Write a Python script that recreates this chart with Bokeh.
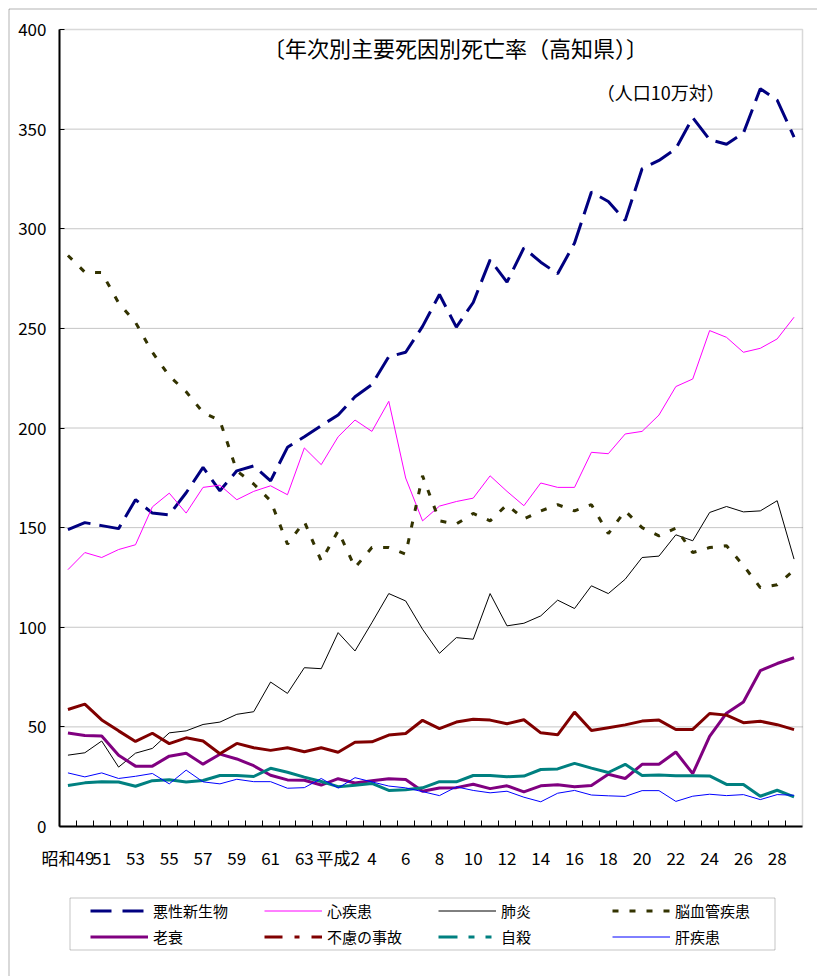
from bokeh.plotting import figure
from bokeh.models import (Range1d, FixedTicker, Label, Legend, LegendItem,
                          LinearAxis, BoxAnnotation)
from bokeh.embed import file_html
from bokeh.resources import INLINE

FONT = "Noto Sans CJK JP"

# ---- data -------------------------------------------------------------
years = ["昭和49", "50", "51", "52", "53", "54", "55", "56", "57", "58", "59",
         "60", "61", "62", "63", "平成元", "2", "3", "4", "5", "6", "7", "8",
         "9", "10", "11", "12", "13", "14", "15", "16", "17", "18", "19", "20",
         "21", "22", "23", "24", "25", "26", "27", "28", "29"]
tick_labels = ["昭和49", "51", "53", "55", "57", "59", "61", "63", "平成2", "4",
               "6", "8", "10", "12", "14", "16", "18", "20", "22", "24", "26", "28"]

malignant = [149.0, 152.5, 151.0, 149.5, 164.0, 157.3, 156.4, 167.5, 180.2, 168.5,
             178.5, 181.0, 173.5, 190.3, 195.6, 201.2, 206.5, 215.7, 221.8, 235.8,
             238.0, 251.0, 267.0, 250.6, 263.0, 284.4, 273.2, 290.4, 283.2, 277.4,
             292.8, 318.4, 313.7, 304.2, 330.1, 334.3, 340.2, 355.8, 344.7, 342.4,
             348.0, 370.3, 364.5, 346.0]
heart = [128.9, 137.5, 135.0, 139.0, 141.4, 160.4, 167.3, 157.3, 170.2, 171.3,
         164.0, 168.2, 171.0, 166.5, 190.0, 181.6, 195.6, 204.0, 198.3, 213.4,
         174.9, 153.4, 160.8, 163.1, 164.8, 176.0, 168.2, 161.0, 172.4, 170.2,
         170.2, 187.8, 187.1, 197.0, 198.3, 206.5, 220.8, 224.6, 248.9, 245.5,
         238.0, 240.0, 244.7, 255.6]
pneumonia = [35.8, 37.0, 42.9, 29.8, 36.8, 39.2, 47.0, 48.0, 51.2, 52.4,
             56.3, 57.6, 72.5, 66.8, 79.7, 79.2, 97.3, 88.1, 102.3, 116.9,
             113.2, 99.0, 86.9, 94.8, 94.0, 116.9, 100.7, 102.0, 105.7, 113.6,
             109.4, 120.8, 116.9, 124.1, 135.0, 135.7, 146.4, 143.4, 157.6, 160.6,
             157.9, 158.4, 163.5, 134.2]
cerebro = [286.6, 278.2, 278.0, 262.8, 253.0, 238.0, 226.1, 218.2, 207.8, 203.7,
           178.5, 171.9, 163.5, 141.7, 153.0, 133.3, 148.4, 130.0, 140.0, 140.0,
           136.7, 176.0, 153.4, 151.8, 157.1, 153.4, 161.5, 154.3, 158.4, 161.5,
           158.4, 161.5, 147.0, 158.4, 150.0, 145.9, 149.7, 137.5, 140.0, 140.9,
           131.0, 119.9, 121.3, 128.6]
senility = [46.9, 45.7, 45.4, 35.8, 30.3, 30.3, 35.3, 36.8, 31.3, 36.3,
            33.9, 30.5, 25.7, 23.4, 23.2, 20.8, 24.0, 21.8, 23.0, 24.0,
            23.6, 17.7, 19.3, 19.5, 21.2, 19.0, 20.4, 17.4, 20.4, 20.9,
            19.9, 20.6, 26.2, 24.1, 31.2, 31.2, 37.4, 26.5, 45.2, 56.9,
            62.5, 78.2, 81.8, 84.7]
accident = [58.7, 61.4, 53.5, 48.0, 42.7, 46.8, 41.6, 44.5, 42.9, 36.5,
            41.7, 39.5, 38.2, 39.5, 37.5, 39.5, 37.3, 42.3, 42.5, 45.9,
            46.7, 53.3, 49.1, 52.4, 53.8, 53.4, 51.6, 53.6, 47.0, 46.0,
            57.4, 48.2, 49.6, 51.0, 52.9, 53.4, 48.7, 48.7, 56.7, 55.9,
            52.1, 52.8, 51.1, 48.6]
suicide = [20.6, 21.9, 22.4, 22.3, 20.2, 23.0, 23.5, 22.3, 23.1, 25.6,
           25.6, 25.1, 29.2, 27.2, 24.8, 22.6, 20.0, 20.7, 21.6, 18.1,
           18.4, 19.4, 22.5, 22.4, 25.6, 25.6, 25.0, 25.3, 28.6, 28.9,
           31.7, 29.3, 27.1, 31.2, 25.6, 25.8, 25.5, 25.5, 25.4, 21.1,
           21.1, 15.2, 18.2, 14.9]
liver = [26.9, 24.9, 26.9, 24.1, 25.2, 26.6, 21.4, 28.3, 22.4, 21.4,
         23.7, 22.5, 22.5, 19.2, 19.5, 24.1, 19.3, 24.5, 22.4, 20.3,
         19.4, 17.5, 15.5, 19.9, 18.1, 16.9, 17.7, 14.7, 12.4, 16.7,
         18.1, 15.8, 15.4, 15.1, 18.0, 18.0, 12.6, 15.2, 16.2, 15.5,
         16.0, 13.5, 16.0, 15.7]

series_names = ["悪性新生物", "心疾患", "肺炎", "脳血管疾患", "老衰", "不慮の事故", "自殺", "肝疾患"]
series_values = [malignant, heart, pneumonia, cerebro, senility, accident, suicide, liver]
series_colors = ["#000080", "#FF00FF", "#000000", "#333300", "#800080", "#800000", "#008080", "#0000FF"]
series_widths = [3, 1, 1, 3, 3, 3, 3, 1]
plot_dashes = ["24 9", "solid", "solid", "6 11", "solid", "solid", "solid", "solid"]
legend_dashes = ["21 11", "solid", "solid", "6 11", "solid", "18 12 5 12", "19 11 6 11 6 11", "solid"]

y_ticks = [0, 50, 100, 150, 200, 250, 300, 350, 400]

# ---- figure -----------------------------------------------------------
n = len(years)
xs = list(range(n))
Y_MAX = 400

# The frame covers the whole page so that the legend below the axis and the
# outer border are not clipped; the axes sit at fixed data locations.
PX_X = 743 / n          # pixels per category
PX_Y = 797 / Y_MAX      # pixels per unit
x_lo = -0.5 - 52 / PX_X
x_hi = x_lo + 810 / PX_X
y_hi = Y_MAX + 22 / PX_Y
y_lo = -150 / PX_Y

p = figure(width=817, height=976, output_backend="svg", toolbar_location=None,
           x_range=Range1d(x_lo, x_hi), y_range=Range1d(y_lo, y_hi),
           x_axis_location=None, y_axis_location=None,
           min_border_left=7, min_border_right=0, min_border_top=7,
           min_border_bottom=0)
p.background_fill_color = "white"
p.border_fill_color = "white"
p.outline_line_color = None
p.xgrid.visible = False
p.ygrid.visible = False

# plot-area border (gray top / right) and dotted gridlines
p.add_layout(BoxAnnotation(left=-0.5, right=n - 0.5, bottom=0, top=Y_MAX,
                           fill_alpha=0, line_color="#808080", line_width=1.5,
                           level="underlay"))
grid_vals = y_ticks[1:-1]
p.segment(x0=[-0.5] * len(grid_vals), x1=[n - 0.5] * len(grid_vals),
          y0=grid_vals, y1=grid_vals, line_color="#8c8c8c", line_dash="1 1",
          line_width=1, level="underlay")

# axes
xaxis = LinearAxis(fixed_location=0, bounds=(-0.5, n - 0.5),
                   ticker=FixedTicker(ticks=list(range(0, n, 2)),
                                      minor_ticks=[i + 0.5 for i in range(n - 1)]),
                   major_label_overrides={t: lab for t, lab in zip(range(0, n, 2), tick_labels)},
                   major_tick_in=0, major_tick_out=0,
                   minor_tick_in=6, minor_tick_out=0, minor_tick_line_color="black",
                   major_label_standoff=18, axis_line_width=2, axis_line_color="black",
                   major_label_text_font=FONT, major_label_text_font_size="17px",
                   major_label_text_color="black")
p.add_layout(xaxis, "below")

yaxis = LinearAxis(fixed_location=-0.5, bounds=(0, Y_MAX),
                   ticker=FixedTicker(ticks=y_ticks),
                   major_tick_in=5, major_tick_out=0, minor_tick_line_color=None,
                   major_label_standoff=13, axis_line_width=2, axis_line_color="black",
                   major_label_text_font=FONT, major_label_text_font_size="17px",
                   major_label_text_color="black")
p.add_layout(yaxis, "left")

# data lines
for vals, col, w, d in zip(series_values, series_colors, series_widths, plot_dashes):
    p.line(xs, vals, line_color=col, line_width=w, line_dash=d)

# legend (hidden twin renderers carry the legend line styles)
items = []
for name, vals, col, w, d in zip(series_names, series_values, series_colors,
                                 series_widths, legend_dashes):
    r = p.line(xs, vals, line_color=col, line_width=w, line_dash=d, visible=False)
    items.append(LegendItem(label=name, renderers=[r]))

legend = Legend(items=items, ncols=4, location=(83, 29.5),
                orientation="horizontal", click_policy="none",
                glyph_width=58, glyph_height=21, label_width=106, label_height=21,
                label_standoff=5, spacing=5, padding=0, margin=0,
                label_text_font=FONT, label_text_font_size="15px",
                label_text_color="black",
                border_line_alpha=0, background_fill_alpha=0)
p.add_layout(legend, "center")

# legend box
p.add_layout(BoxAnnotation(left=69.5, right=774.5, top=897.5, bottom=949.5,
                           left_units="canvas", right_units="canvas",
                           top_units="canvas", bottom_units="canvas",
                           fill_alpha=0, line_color="#404040", line_width=1))
# outer border of the chart area
p.add_layout(BoxAnnotation(left=8.5, right=3000, top=8.5, bottom=3000,
                           left_units="canvas", right_units="canvas",
                           top_units="canvas", bottom_units="canvas",
                           fill_alpha=0, line_color="black", line_width=1))

# titles
p.add_layout(Label(x=22.95, y=391, text="〔年次別主要死因別死亡率（高知県）〕",
                   text_align="center", text_baseline="middle",
                   text_font=FONT, text_font_size="22px", text_color="black"))
p.add_layout(Label(x=35.1, y=368.5, text="（人口10万対）",
                   text_align="center", text_baseline="middle",
                   text_font=FONT, text_font_size="18px", text_color="black"))

open("out.html", "w").write(file_html(p, INLINE))
